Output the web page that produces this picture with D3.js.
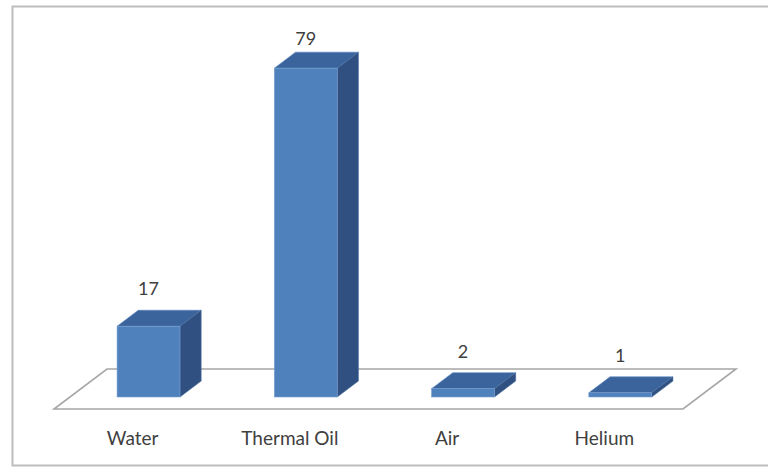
<!DOCTYPE html>
<html>
<head>
<meta charset="utf-8">
<script src="https://cdn.jsdelivr.net/npm/d3@7"></script>
<style>
  html, body { margin: 0; padding: 0; background: #fff; }
  svg { display: block; }
  text { font-family: Lato, "Open Sans", sans-serif; fill: #404040; }
</style>
</head>
<body>
<svg id="chart" width="768" height="467"></svg>
<script>
// Data
const categories = ["Water", "Thermal Oil", "Air", "Helium"];
const values = [17, 79, 2, 1];

const svg = d3.select("#chart");
const W = 768, H = 467;

// Chart frame
svg.append("rect")
  .attr("x", 12.5).attr("y", 6.5)
  .attr("width", W + 10).attr("height", 459)
  .attr("fill", "#fff")
  .attr("stroke", "#bdbdbd").attr("stroke-width", 2);

// Floor geometry: front edge and depth vector
const floorLeft = 54, floorRight = 683, floorFrontY = 409;
const depth = { dx: 53, dy: -40 };
const barDepthStart = 0.3, barDepthEnd = 0.7;

const x = d3.scaleBand().domain(categories).range([floorLeft, floorRight]).padding(0);
const barFrac = 0.4;
const y = d3.scaleLinear().domain([0, 80]).range([0, 333]);

// Floor
const floorPts = [
  [floorLeft, floorFrontY],
  [floorRight, floorFrontY],
  [floorRight + depth.dx, floorFrontY + depth.dy],
  [floorLeft + depth.dx, floorFrontY + depth.dy]
];
svg.append("path")
  .attr("d", d3.line()(floorPts) + "Z")
  .attr("fill", "#fff")
  .attr("stroke", "#a6a6a6").attr("stroke-width", 1.6);

// Bars
const fx = depth.dx * barDepthStart, fy = depth.dy * barDepthStart;
const dx = depth.dx * (barDepthEnd - barDepthStart), dy = depth.dy * (barDepthEnd - barDepthStart);

const bars = svg.append("g").selectAll("g").data(categories).join("g");

bars.each(function(c, i) {
  const g = d3.select(this);
  const bw = x.bandwidth() * barFrac;
  const x0 = x(c) + (x.bandwidth() - bw) / 2 + fx;
  const x1 = x0 + bw;
  const yb = floorFrontY + fy;
  const yt = yb - y(values[i]);
  // top face
  g.append("path")
    .attr("d", d3.line()([[x0, yt], [x1, yt], [x1 + dx, yt + dy], [x0 + dx, yt + dy]]) + "Z")
    .attr("fill", "#3b649c").attr("stroke", "#5a86bf").attr("stroke-width", 0.6);
  // side face
  g.append("path")
    .attr("d", d3.line()([[x1, yt], [x1 + dx, yt + dy], [x1 + dx, yb + dy], [x1, yb]]) + "Z")
    .attr("fill", "#2f5080").attr("stroke", "#4a6e9e").attr("stroke-width", 0.6);
  // front face
  g.append("rect")
    .attr("x", x0).attr("y", yt)
    .attr("width", bw).attr("height", yb - yt)
    .attr("fill", "#4f81bd").attr("stroke", "#7aa0d0").attr("stroke-width", 0.6);
  // value label
  g.append("text")
    .attr("x", x0 + bw / 2)
    .attr("y", Math.max(yt + dy - 15, 45))
    .attr("text-anchor", "middle")
    .attr("font-size", 18)
    .text(values[i]);
});

// Category labels
svg.append("g").selectAll("text").data(categories).join("text")
  .attr("x", d => x(d) + x.bandwidth() / 2)
  .attr("y", 445)
  .attr("text-anchor", "middle")
  .attr("font-size", 19)
  .text(d => d);
</script>
</body>
</html>
